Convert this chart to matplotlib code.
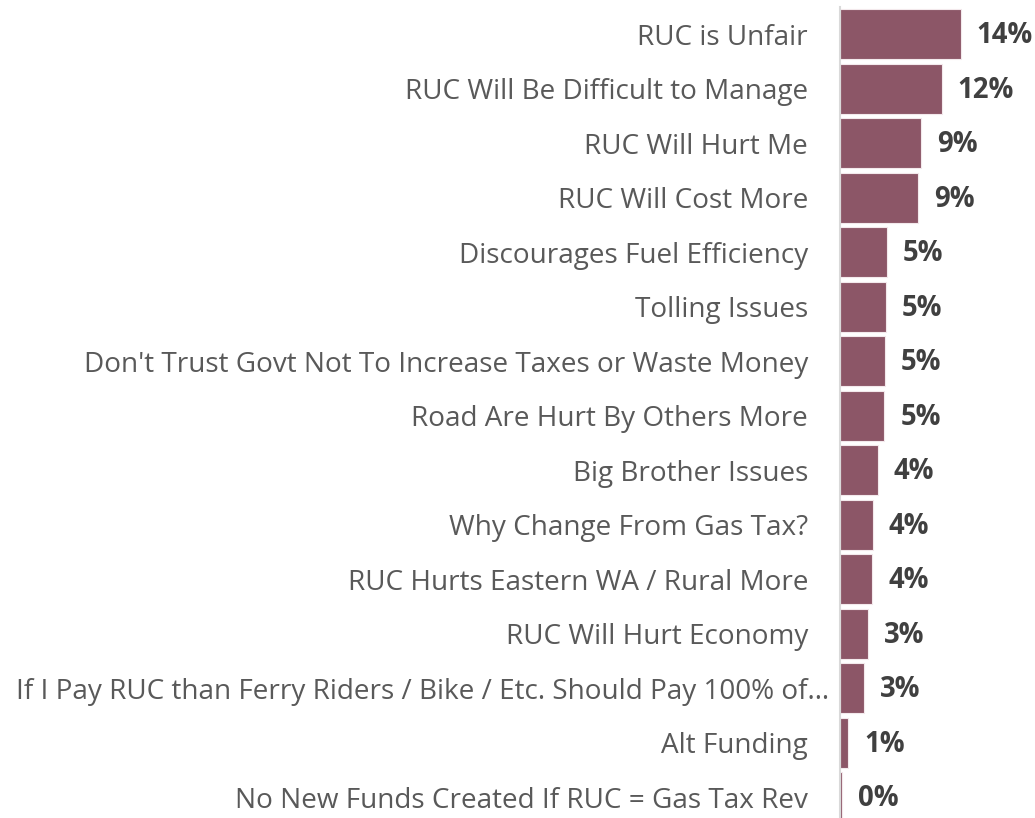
import matplotlib
matplotlib.use("Agg")
import matplotlib.pyplot as plt
from matplotlib.transforms import ScaledTranslation

# reasons (top to bottom) and shares in percent
categorias = [
    "RUC is Unfair",
    "RUC Will Be Difficult to Manage",
    "RUC Will Hurt Me",
    "RUC Will Cost More",
    "Discourages Fuel Efficiency",
    "Tolling Issues",
    "Don't Trust Govt Not To Increase Taxes or Waste Money",
    "Road Are Hurt By Others More",
    "Big Brother Issues",
    "Why Change From Gas Tax?",
    "RUC Hurts Eastern WA / Rural More",
    "RUC Will Hurt Economy",
    "If I Pay RUC than Ferry Riders / Bike / Etc. Should Pay 100% of\u2026",
    "Alt Funding",
    "No New Funds Created If RUC = Gas Tax Rev",
]
valores = [14.0, 11.8, 9.4, 9.05, 5.4, 5.3, 5.2, 5.15, 4.4, 3.8, 3.75, 3.3, 2.8, 0.95, 0.2]
etiquetas = ["14%", "12%", "9%", "9%", "5%", "5%", "5%", "5%", "4%", "4%", "4%", "3%", "3%", "1%", "0%"]

plt.rcParams["font.family"] = ["Open Sans", "DejaVu Sans"]

fig = plt.figure(figsize=(10.35, 8.18), dpi=100)
ax = fig.add_axes([840 / 1035, -6.6 / 818, 195 / 1035, 817.6 / 818])

pos = list(range(len(categorias)))
ax.barh(pos, valores, height=0.92, color="#8C5667", edgecolor="#f3e9ec", linewidth=0.8)

ax.set_ylim(14.5, -0.5)
ax.set_xlim(0, 195 / 8.62)

for p, v, t in zip(pos, valores, etiquetas):
    ax.annotate(t, xy=(v, p), xytext=(11.5, -1), textcoords="offset points",
                va="center", ha="left", fontsize=19.8, fontweight="bold", color="#404040")

ax.set_yticks(pos)
ax.set_yticklabels(categorias, fontsize=20.1, color="#595959")
ax.tick_params(axis="y", length=0, pad=23)
ax.set_xticks([])

# la etiqueta truncada sobresale un poco hacia la derecha
lab = ax.get_yticklabels()[12]
lab.set_transform(lab.get_transform() + ScaledTranslation(0.21, 0, fig.dpi_scale_trans))

for s in ["top", "right", "bottom"]:
    ax.spines[s].set_visible(False)
ax.spines["left"].set_color("#d9d9d9")
ax.spines["left"].set_linewidth(1.5)

fig.savefig("out.png", dpi=100)
